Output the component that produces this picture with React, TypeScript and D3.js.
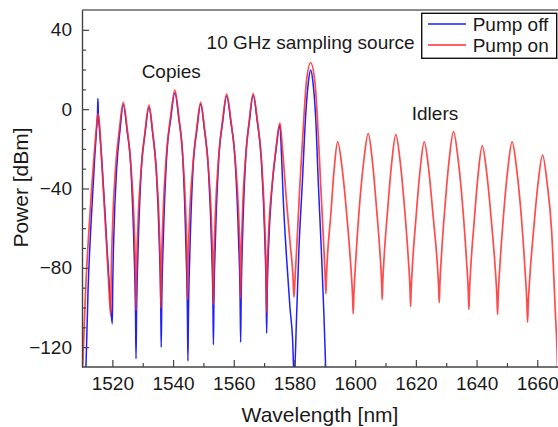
import { useEffect, useRef } from "react";
import * as d3 from "d3";

type Pt = [number, number]; // [wavelength nm, power dBm]

// Pump on (red): copies, 10 GHz sampling source, idlers
const pumpOnCopies: Pt[] = [
  [1509.9, -138], [1510.2, -130], [1511.2, -91], [1512.4, -58], [1513.95, -24], [1514.9, -7],
  [1515.27, -2.2], [1515.75, -7], [1516.4, -24], [1517.7, -58], [1518.8, -88], [1519.45, -104],
  [1519.62, -84.7], [1520.07, -58.9], [1521.11, -28.6], [1522.36, -9.6], [1523.6, 3.4],
  [1524.86, -9.6], [1526.12, -28.6], [1527.17, -57.4], [1527.63, -82.6], [1527.8, -101.5],
  [1527.97, -82.9], [1528.44, -58], [1529.51, -30], [1530.79, -11], [1532.07, 2],
  [1533.25, -11], [1534.43, -30], [1535.41, -57.3], [1535.84, -81.8], [1536.0, -100.2],
  [1536.18, -80.4], [1536.69, -54.1], [1537.84, -22.4], [1539.22, -3.4], [1540.6, 9.6],
  [1541.86, -3.4], [1543.12, -22.4], [1544.17, -51.6], [1544.63, -77], [1544.8, -96],
  [1544.97, -78.1], [1545.45, -54.3], [1546.52, -28.6], [1547.81, -9.6], [1549.1, 3.4],
  [1550.35, -9.6], [1551.59, -28.6], [1552.63, -55.7], [1553.08, -80.2], [1553.25, -98.5],
  [1553.43, -79.4], [1553.91, -53.9], [1555.01, -24.4], [1556.34, -5.4], [1557.66, 7.6],
  [1559.04, -5.4], [1560.43, -24.4], [1561.58, -52.1], [1562.09, -76.8], [1562.27, -95.3],
  [1562.44, -76.7], [1562.89, -52], [1563.92, -24.1], [1565.16, -5.1], [1566.4, 7.9],
  [1567.73, -5.1], [1569.06, -24.1], [1570.17, -56.1], [1570.66, -82.5], [1570.84, -102.4],
  [1571.01, -85.2], [1571.49, -62.3], [1572.58, -39], [1573.89, -20], [1575.2, -7],
  [1576.0, -19], [1577.3, -45], [1578.6, -68], [1579.5, -84], [1579.83, -94.8],
];

const pumpOnSource: Pt[] = [
  [1580.1, -88], [1580.72, -70.6], [1581.81, -37.6], [1583.13, -3.6], [1583.91, 13.4],
  [1585.33, 23.4], [1586.75, 13.4], [1587.53, -3.6], [1588.62, -37.6], [1589.71, -70.6],
  [1590.15, -86], [1590.37, -93],
];

const pumpOnIdlers: Pt[] = [
  [1590.52, -85.4], [1590.95, -72.3], [1591.91, -54.5], [1593.07, -30.5], [1594.22, -16.5],
  [1595.76, -30.5], [1597.3, -54.5], [1598.59, -79.8], [1599.15, -94.5], [1599.36, -103.2],
  [1599.56, -94.1], [1600.1, -78.7], [1601.34, -50.3], [1602.82, -26.3], [1604.3, -12.3],
  [1605.68, -26.3], [1607.06, -50.3], [1608.21, -73.4], [1608.72, -87.6], [1608.9, -96],
  [1609.08, -87.7], [1609.58, -73.5], [1610.7, -50.8], [1612.05, -26.8], [1613.4, -12.8],
  [1614.86, -26.8], [1616.32, -50.8], [1617.54, -76.1], [1618.08, -90.8], [1618.27, -99.5],
  [1618.45, -91.2], [1618.94, -77.1], [1620.06, -54.5], [1621.41, -30.5], [1622.75, -16.5],
  [1624.24, -30.5], [1625.72, -54.5], [1626.96, -75.7], [1627.5, -89.5], [1627.7, -97.6],
  [1627.89, -89], [1628.41, -74.3], [1629.58, -49.3], [1630.99, -25.3], [1632.4, -11.3],
  [1633.92, -25.3], [1635.44, -49.3], [1636.71, -76.8], [1637.27, -92], [1637.47, -101],
  [1637.65, -92.8], [1638.13, -78.7], [1639.22, -56.5], [1640.54, -32.5], [1641.85, -18.5],
  [1643.37, -32.5], [1644.89, -56.5], [1646.16, -80.6], [1646.72, -95], [1646.92, -103.5],
  [1647.11, -94.8], [1647.64, -80], [1648.83, -54.5], [1650.27, -30.5], [1651.7, -16.5],
  [1653.23, -30.5], [1654.76, -54.5], [1656.04, -82.9], [1656.6, -98.3], [1656.8, -107.4],
  [1657.0, -99], [1657.54, -84.7], [1658.78, -61.2], [1660.27, -37.2], [1661.75, -23.2],
  [1663.24, -37.2], [1664.72, -61.2], [1665.96, -102.6], [1666.5, -121.1], [1666.7, -132],
  [1667.2, -140],
];

// Pump off (blue): copies and the sampling source only
const pumpOffCopies: Pt[] = [
  [1510.8, -145], [1511.3, -130], [1512.0, -91], [1512.96, -58], [1514.2, -24], [1514.85, -9],
  [1515.12, -2], [1515.25, 5.4], [1515.38, -2], [1515.7, -9], [1516.45, -24], [1517.8, -58],
  [1518.95, -88], [1519.98, -108.3],
  [1520.13, -88.4], [1520.52, -61.9], [1521.43, -29.8], [1522.51, -10.8], [1523.6, 2.2],
  [1524.86, -10.8], [1526.12, -29.8], [1527.17, -72.1], [1527.63, -102.8], [1527.8, -125.9],
  [1527.97, -103.1], [1528.44, -72.6], [1529.51, -31], [1530.79, -12], [1532.07, 1],
  [1533.28, -12], [1534.49, -31], [1535.5, -69.2], [1535.94, -98.2], [1536.1, -120],
  [1536.28, -96.9], [1536.78, -66.1], [1537.9, -23.7], [1539.25, -4.7], [1540.6, 8.3],
  [1541.89, -4.7], [1543.18, -23.7], [1544.26, -70.2], [1544.73, -102.6], [1544.9, -127],
  [1545.07, -103.7], [1545.53, -72.6], [1546.58, -29.5], [1547.84, -10.5], [1549.1, 2.5],
  [1550.36, -10.5], [1551.62, -29.5], [1552.67, -67.9], [1553.13, -97], [1553.3, -118.8],
  [1553.47, -96.2], [1553.95, -66.1], [1555.04, -25.4], [1556.35, -6.4], [1557.66, 6.6],
  [1559.04, -6.4], [1560.43, -25.4], [1561.58, -65.4], [1562.09, -95.2], [1562.27, -117.5],
  [1562.44, -95.1], [1562.89, -65.2], [1563.92, -25], [1565.16, -6], [1566.4, 7],
  [1567.73, -6], [1569.06, -25], [1570.17, -62.6], [1570.66, -91.4], [1570.84, -113],
  [1571.01, -94.1], [1571.49, -68.9], [1572.58, -40], [1573.89, -21], [1575.2, -8],
  [1575.7, -22], [1576.3, -45], [1577.4, -75], [1578.5, -99.6], [1579.4, -116.5], [1579.9, -136],
];

const pumpOffSource: Pt[] = [
  [1580.7, -104.5], [1581.46, -71], [1582.58, -37.5], [1583.66, -3.9], [1584.57, 13.4],
  [1585.33, 19.7], [1586.1, 13.4], [1586.98, -3.9], [1587.87, -37.5], [1588.85, -71],
  [1589.73, -104.5], [1590.27, -130], [1590.5, -140],
];

const xMajorTicks = [1520, 1540, 1560, 1580, 1600, 1620, 1640, 1660];
const xMinorTicks = [1530, 1550, 1570, 1590, 1610, 1630, 1650];
const yMajorTicks = [-120, -80, -40, 0, 40];
const yMinorTicks = [-110, -100, -90, -70, -60, -50, -30, -20, -10, 10, 20, 30];
const seriesLabels = ["Pump off", "Pump on"];
const annotationTexts = ["Copies", "10 GHz sampling source", "Idlers"];

const W = 558;
const H = 427;
const FONT = "'Liberation Sans', Arial, sans-serif";
const BLUE = "#1f1fff";
const RED = "#ff2b2b";

export default function App() {
  const svgRef = useRef<SVGSVGElement>(null);

  useEffect(() => {
    const svg = d3.select(svgRef.current);
    svg.selectAll("*").remove();

    const left = 82, right = 557, top = 10, bottom = 367;

    const x = d3.scaleLinear().domain([1510, 1666.5]).range([left, right]);
    const y = d3.scaleLinear().domain([-130, 50]).range([bottom, top]);

    svg.append("defs").append("clipPath").attr("id", "plot-clip")
      .append("rect").attr("x", left).attr("y", top)
      .attr("width", right - left).attr("height", bottom - top);

    const line = d3.line<Pt>()
      .x((d) => x(d[0]))
      .y((d) => y(d[1]))
      .curve(d3.curveMonotoneX);

    const plot = svg.append("g").attr("clip-path", "url(#plot-clip)");

    const pumpOn = [...pumpOnCopies, ...pumpOnSource, ...pumpOnIdlers];
    const pumpOff = [...pumpOffCopies, ...pumpOffSource];

    // blue first, red drawn over it
    plot.append("path").datum(pumpOff)
      .attr("fill", "none").attr("stroke", BLUE).attr("stroke-width", 1.5)
      .attr("stroke-linejoin", "round").attr("d", line);

    plot.append("path").datum(pumpOn)
      .attr("fill", "none").attr("stroke", RED).attr("stroke-width", 1.7)
      .attr("stroke-opacity", 0.85)
      .attr("stroke-linejoin", "round").attr("d", line);

    // top frame line
    svg.append("line")
      .attr("x1", left).attr("x2", W).attr("y1", top).attr("y2", top)
      .attr("stroke", "#666").attr("stroke-width", 1.3);

    const styleAxis = (g: d3.Selection<SVGGElement, unknown, null, undefined>) => {
      g.attr("font-family", FONT).attr("font-size", 19);
      g.select(".domain").attr("stroke", "#444").attr("stroke-width", 1.4);
      g.selectAll(".tick line").attr("stroke", "#444").attr("stroke-width", 1.2);
      g.selectAll(".tick text").attr("fill", "#1a1a1a");
    };

    // x axis (ticks inward)
    const xMinor = svg.append("g").attr("transform", `translate(0,${bottom})`)
      .call(d3.axisBottom(x).tickValues(xMinorTicks).tickSize(-4).tickSizeOuter(0).tickFormat(() => ""));
    xMinor.select(".domain").remove();
    xMinor.selectAll(".tick line").attr("stroke", "#444").attr("stroke-width", 1.2);

    const xAxis = svg.append("g").attr("transform", `translate(0,${bottom})`)
      .call(d3.axisBottom(x).tickValues(xMajorTicks).tickSize(-7).tickSizeOuter(0)
        .tickPadding(9.5).tickFormat(d3.format("d")));
    styleAxis(xAxis);
    xAxis.select(".domain").attr("d", `M${left},0H${W}`);

    // y axis (ticks inward)
    const yMinor = svg.append("g").attr("transform", `translate(${left},0)`)
      .call(d3.axisLeft(y).tickValues(yMinorTicks).tickSize(-4).tickSizeOuter(0).tickFormat(() => ""));
    yMinor.select(".domain").remove();
    yMinor.selectAll(".tick line").attr("stroke", "#444").attr("stroke-width", 1.2);

    const yAxis = svg.append("g").attr("transform", `translate(${left},0)`)
      .call(d3.axisLeft(y).tickValues(yMajorTicks).tickSize(-7).tickSizeOuter(0).tickPadding(10));
    styleAxis(yAxis);

    // axis titles
    svg.append("text")
      .attr("x", 320).attr("y", 422).attr("text-anchor", "middle")
      .attr("font-family", FONT).attr("font-size", 21).attr("fill", "#1a1a1a")
      .text("Wavelength [nm]");

    svg.append("text")
      .attr("transform", `translate(28,${187.5}) rotate(-90)`)
      .attr("text-anchor", "middle")
      .attr("font-family", FONT).attr("font-size", 21).attr("fill", "#1a1a1a")
      .text("Power [dBm]");

    // annotations, placed in data coordinates
    const annPos: Pt[] = [[1529.65, 15.7], [1551.06, 30.3], [1618.65, -5.5]];
    annotationTexts.forEach((t, i) => {
      svg.append("text")
        .attr("x", x(annPos[i][0])).attr("y", y(annPos[i][1]))
        .attr("font-family", FONT).attr("font-size", 19).attr("fill", "#1a1a1a")
        .text(t);
    });

    // legend
    const lg = svg.append("g");
    lg.append("rect")
      .attr("x", 421.7).attr("y", 13.3).attr("width", 135).attr("height", 45)
      .attr("fill", "#fff").attr("stroke", "#111").attr("stroke-width", 1.4);
    seriesLabels.forEach((label, i) => {
      const ly = 24 + i * 21;
      lg.append("line")
        .attr("x1", 428).attr("x2", 466).attr("y1", ly).attr("y2", ly)
        .attr("stroke", i === 0 ? BLUE : RED).attr("stroke-width", 1.4);
      lg.append("text")
        .attr("x", 472.7).attr("y", ly + 6.7)
        .attr("font-family", FONT).attr("font-size", 19).attr("fill", "#1a1a1a")
        .text(label);
    });
  }, []);

  return (
    <svg
      ref={svgRef}
      width={W}
      height={H}
      style={{ position: "absolute", left: 0, top: 0, background: "#fff" }}
    />
  );
}
